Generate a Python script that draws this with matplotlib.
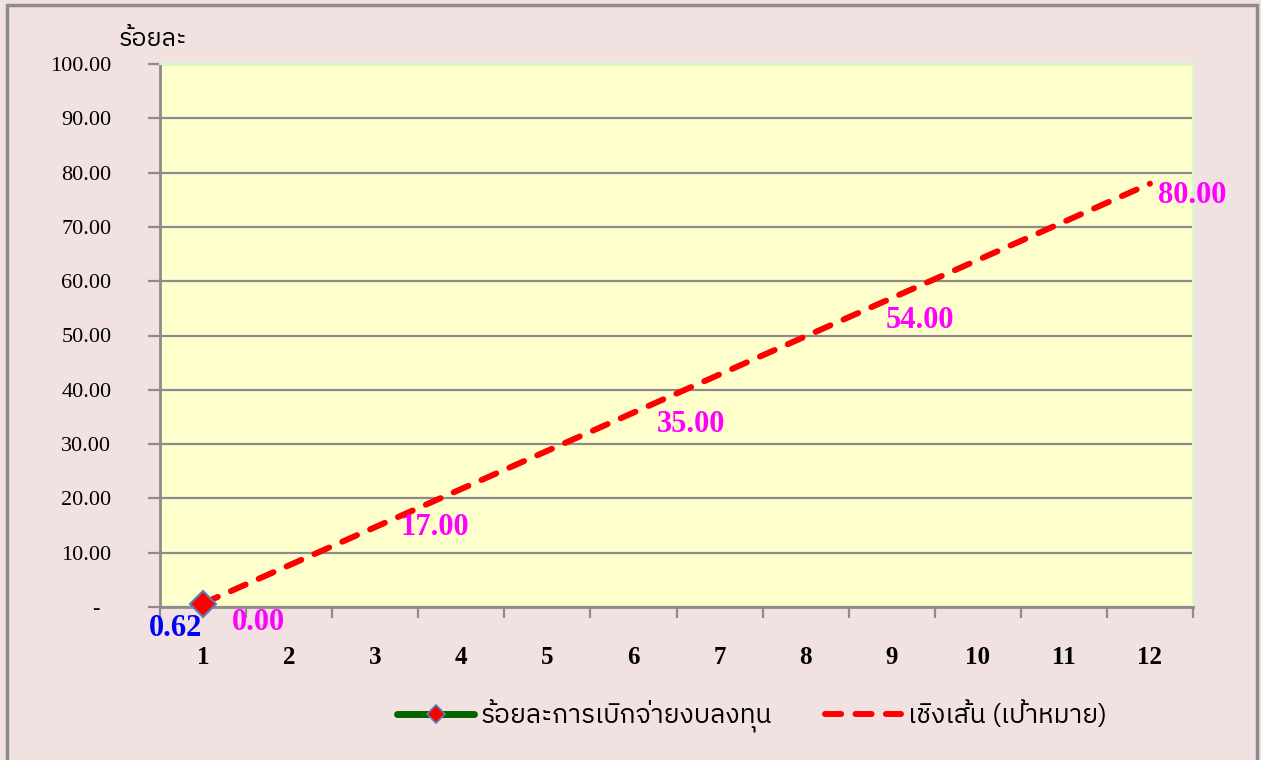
import matplotlib
matplotlib.use("Agg")
import matplotlib.pyplot as plt
from matplotlib import font_manager
from matplotlib.lines import Line2D
from matplotlib.patches import Rectangle
import numpy as np

# ---------------- data ----------------
months = [1, 2, 3, 4, 5, 6, 7, 8, 9, 10, 11, 12]
month_labels = ["1", "2", "3", "4", "5", "6", "7", "8", "9", "10", "11", "12"]
actual_x = [1]
actual_y = [0.62]
target_x = [1, 3, 6, 9, 12]
target_y = [0.00, 17.00, 35.00, 54.00, 80.00]
y_ticks = [0, 10, 20, 30, 40, 50, 60, 70, 80, 90, 100]
y_tick_labels = ["-  ", "10.00", "20.00", "30.00", "40.00", "50.00",
                 "60.00", "70.00", "80.00", "90.00", "100.00"]
y_title = "ร้อยละ"
actual_name = "ร้อยละการเบิกจ่ายงบลงทุน"
trend_name = "เชิงเส้น (เป้าหมาย)"

# ---------------- fonts ----------------
def find_thai_font():
    try:
        from fontTools.ttLib import TTFont
    except Exception:
        return None
    best = None
    for f in font_manager.fontManager.ttflist:
        try:
            tt = TTFont(f.fname, fontNumber=0, lazy=True)
            cmap = tt.getBestCmap()
            if cmap and 0x0E23 in cmap and 0x0E2D in cmap:
                if best is None or ("Sans" in f.name and "Looped" not in f.name):
                    best = f.name
                    if "Sans" in f.name:
                        return best
        except Exception:
            continue
    return best

thai = find_thai_font()
thai_family = [thai, "DejaVu Sans"] if thai else ["DejaVu Sans"]
serif = "Liberation Serif"

# ---------------- figure ----------------
fig = plt.figure(figsize=(12.61, 7.60), dpi=100, facecolor="#F2E1E1")
ax = fig.add_axes([160 / 1261, 1 - 607 / 760, (1193 - 160) / 1261, (607 - 64) / 760])
ax.set_facecolor("#FFFFCC")

ax.set_xlim(0.5, 12.5)
ax.set_ylim(0, 100)

# grid
ax.set_yticks(y_ticks)
ax.set_yticklabels(y_tick_labels, fontfamily=serif, fontsize=16, color="black")
ax.yaxis.grid(True, color="#8C8C8C", linewidth=1.6)
ax.set_axisbelow(True)
ax.tick_params(axis="y", direction="out", length=9, width=1.6, color="#8C8C8C", pad=26)

# x ticks: marks at category boundaries, labels at centres
ax.set_xticks(np.arange(0.5, 13, 1.0))
ax.set_xticklabels([])
ax.set_xticks(months, minor=True)
ax.set_xticklabels(month_labels, minor=True, fontfamily=serif, fontsize=18,
                   fontweight="bold", color="black")
ax.tick_params(axis="x", which="major", direction="out", length=8, width=1.6,
               color="#8C8C8C")
ax.tick_params(axis="x", which="minor", length=0, pad=28)

for s in ["top", "right"]:
    ax.spines[s].set_color("#CCFFCC")
    ax.spines[s].set_linewidth(1.5)
for s in ["left", "bottom"]:
    ax.spines[s].set_color("#8C8C8C")
    ax.spines[s].set_linewidth(2)

DASH = (0, (2.7, 2.4))

# linear trendline of the target series
coef = np.polyfit(target_x, target_y, 1)
tx = np.array([months[0], months[-1]], dtype=float)
ax.plot(tx, np.polyval(coef, tx), color="#FF0000", linewidth=4.3,
        linestyle=DASH, dash_capstyle="round", zorder=3)

# actual series
ax.plot(actual_x, actual_y, color="#006400", linewidth=5, marker="D",
        markersize=13, markerfacecolor="#FF0000", markeredgecolor="#5A7FB5",
        markeredgewidth=1.5, zorder=4, clip_on=False)

# target data labels
t_offsets = [(55, -16), (60, -13), (58, -8), (28, -7), (42, -23)]
for x, y, off in zip(target_x, target_y, t_offsets):
    ax.annotate(f"{y:.2f}", (x, y), xytext=off, textcoords="offset pixels",
                ha="center", va="center", fontfamily=serif, fontsize=22,
                fontweight="bold", color="#FF00FF", annotation_clip=False,
                zorder=5)

# actual data label
for x, y in zip(actual_x, actual_y):
    ax.annotate(f"{y:.2f}", (x, y), xytext=(-28, -25), textcoords="offset pixels",
                ha="center", va="center", fontfamily=serif, fontsize=22,
                fontweight="bold", color="#0000FF", annotation_clip=False,
                zorder=5)

# y title
fig.text(153 / 1261, 1 - 40 / 760, y_title, family=thai_family, fontsize=18,
         ha="center", va="center", color="black")

# legend
h1 = Line2D([], [], color="#006400", linewidth=5, marker="D", markersize=9,
            markerfacecolor="#FF0000", markeredgecolor="#5A7FB5",
            markeredgewidth=1.2, solid_capstyle="round")
h2 = Line2D([], [], color="#FF0000", linewidth=4.3, linestyle=DASH,
            dash_capstyle="round")
fig.legend([h1, h2], [actual_name, trend_name], loc="center",
           bbox_to_anchor=(752 / 1261, 1 - 716 / 760), ncol=2, frameon=False,
           prop={"family": thai_family, "size": 19}, handlelength=2.9,
           handletextpad=0.25, columnspacing=2.0)

# outer border
fig.patches.append(Rectangle((7 / 1261, -0.01), (1257 - 7) / 1261, 1 - 5 / 760 + 0.01,
                             transform=fig.transFigure, fill=False,
                             edgecolor="#8C8C8C", linewidth=2.5))

fig.savefig("out.png", dpi=100, facecolor=fig.get_facecolor())
